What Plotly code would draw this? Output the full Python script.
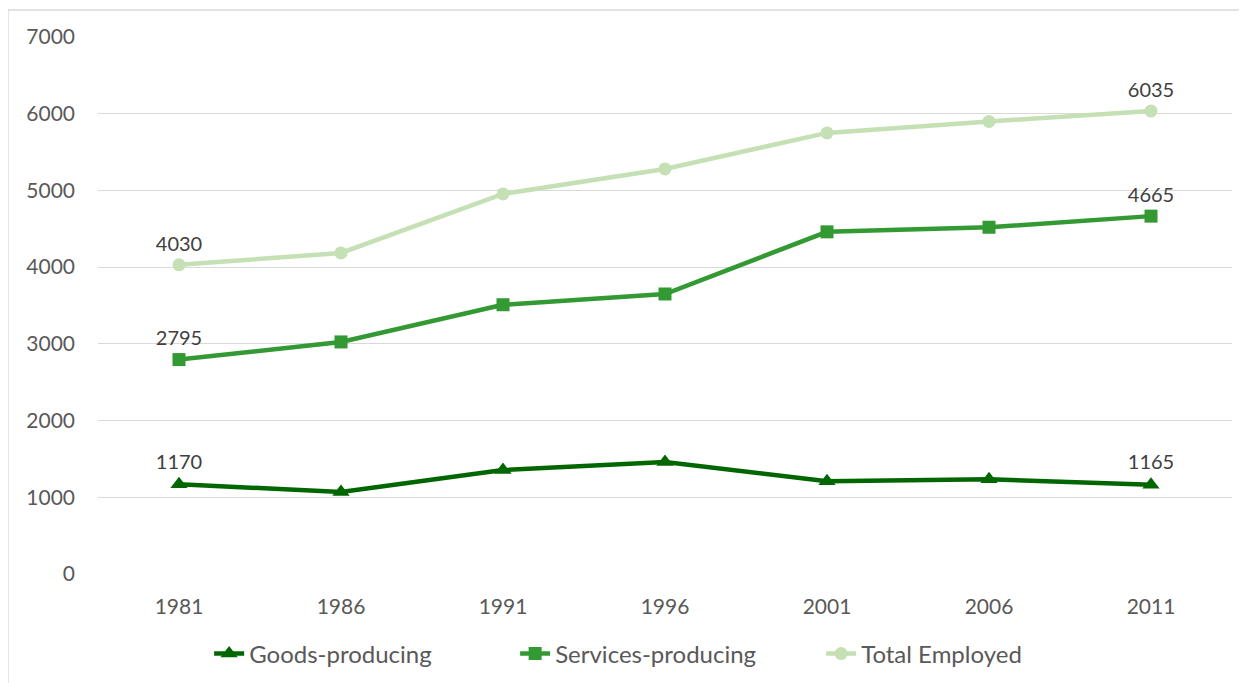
import plotly.graph_objects as go

years = ["1981", "1986", "1991", "1996", "2001", "2006", "2011"]
goods = [1170, 1070, 1355, 1460, 1210, 1235, 1165]
services = [2795, 3025, 3510, 3650, 4460, 4520, 4665]
total = [4030, 4185, 4955, 5280, 5750, 5900, 6035]

def end_labels(vals):
    return [str(v) if i in (0, len(vals) - 1) else "" for i, v in enumerate(vals)]

FONT = "Lato, 'Noto Sans', sans-serif"

fig = go.Figure()
series = [
    ("Goods-producing", goods, "#006600", "triangle-up", 15),
    ("Services-producing", services, "#339933", "square", 13),
    ("Total Employed", total, "#c5e0b4", "circle", 13),
]
for name, vals, col, sym, sz in series:
    fig.add_trace(go.Scatter(
        x=years, y=vals, name=name,
        mode="lines+markers+text",
        line=dict(color=col, width=4.5),
        marker=dict(color=col, symbol=sym, size=sz),
        text=end_labels(vals), textposition="top center",
        textfont=dict(family=FONT, size=20, color="#404040"),
        cliponaxis=False,
    ))

fig.update_layout(
    width=1239, height=675,
    margin=dict(l=90, r=15, t=29, b=109),
    paper_bgcolor="white", plot_bgcolor="white",
    font=dict(family=FONT, size=20, color="#595959"),
    showlegend=True,
    legend=dict(orientation="h", x=0.098, xanchor="left",
                yref="container", y=0.043, yanchor="middle",
                font=dict(size=24, color="#595959"), entrywidth=261, entrywidthmode="pixels",
                traceorder="normal"),
    xaxis=dict(type="category", range=[-0.5, 6.5], showgrid=False, showline=False, ticks="",
               ticklabelstandoff=18, tickfont=dict(size=21, color="#595959")),
    yaxis=dict(range=[0, 7000], dtick=1000, showgrid=True, gridcolor="#d9d9d9", gridwidth=1,
               zeroline=False, showline=False, ticks="", ticklabelstandoff=22,
               tickfont=dict(size=21, color="#595959")),
    shapes=[dict(type="rect", xref="paper", yref="paper", x0=-0.0794, x1=1.3, y0=-0.5, y1=1.0503,
                 line=dict(color="#d9d9d9", width=1.5), fillcolor="rgba(0,0,0,0)", layer="below")],
)

fig.write_html("out.html")
